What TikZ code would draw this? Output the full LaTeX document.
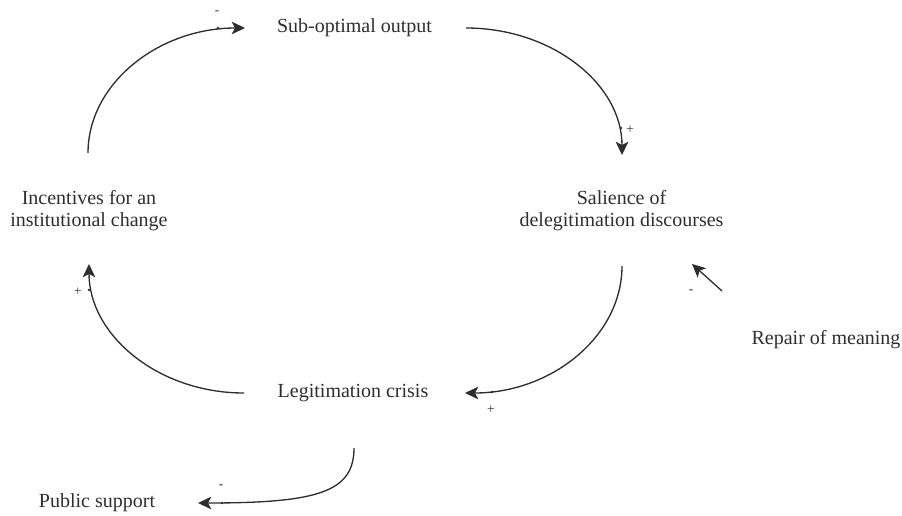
\documentclass[tikz,border=0pt]{standalone}
\usepackage{fontspec}
\setmainfont{Liberation Serif}
\usetikzlibrary{arrows.meta}
\definecolor{ink}{HTML}{2E2E2E}
\begin{document}
\begin{tikzpicture}[x=0.75pt,y=-0.75pt,
  lbl/.style={text=ink,font=\fontsize{15}{16.5}\selectfont,align=center,inner sep=0pt},
  sgn/.style={text=ink,font=\fontsize{10}{11}\selectfont,inner sep=0pt},
  link/.style={draw=ink,line width=1pt,-{Stealth[length=10pt,width=9.5pt,inset=2.5pt]}},
  dotm/.style={fill=ink}]
\useasboundingbox (0,0) rectangle (902,515);
% nodes
\node[lbl] (sub) at (354.5,28) {Sub-optimal output};
\node[lbl] (sal) at (621.5,211) {Salience of\\delegitimation discourses};
\node[lbl] (inc) at (89,211) {Incentives for an\\institutional change};
\node[lbl] (leg) at (353,393) {Legitimation crisis};
\node[lbl] (pub) at (97,503) {Public support};
\node[lbl] (rep) at (826,340) {Repair of meaning};
% connector end points
\coordinate (a1s) at (88,153);  \coordinate (a1e) at (245,28);
\coordinate (a2s) at (466,28);  \coordinate (a2e) at (622,155);
\coordinate (a3s) at (622,266); \coordinate (a3e) at (465,393);
\coordinate (a4s) at (244,393); \coordinate (a4e) at (89,264);
\coordinate (a5s) at (722,291); \coordinate (a5e) at (692,264);
\coordinate (a6s) at (354,448); \coordinate (a6e) at (198,503);
% connectors
\draw[link] (a1s) .. controls (88,84) and (158,28) .. (a1e);
\draw[link] (a2s) .. controls (552,28) and (622,84) .. (a2e);
\draw[link] (a3s) .. controls (622,336) and (552,393) .. (a3e);
\draw[link] (a4s) .. controls (158,393) and (89,335) .. (a4e);
\draw[link] (a5s) -- (a5e);
\draw[link] (a6s) .. controls (354,492) and (318,503) .. (a6e);
% small dots on connectors
\fill[dotm] (218,28) circle (1.3);
\fill[dotm] (621,128) circle (1.3);
\fill[dotm] (492,392) circle (1.3);
\fill[dotm] (89,290) circle (1.3);
\fill[dotm] (222,503) circle (1.3);
% signs
\node[sgn] (s1) at (217,13) {-};
\node[sgn] (s2) at (630,130) {+};
\node[sgn] (s3) at (491,410) {+};
\node[sgn] (s4) at (78,292) {+};
\node[sgn] (s5) at (691,292) {-};
\node[sgn] (s6) at (221,487) {-};
\end{tikzpicture}
\end{document}
